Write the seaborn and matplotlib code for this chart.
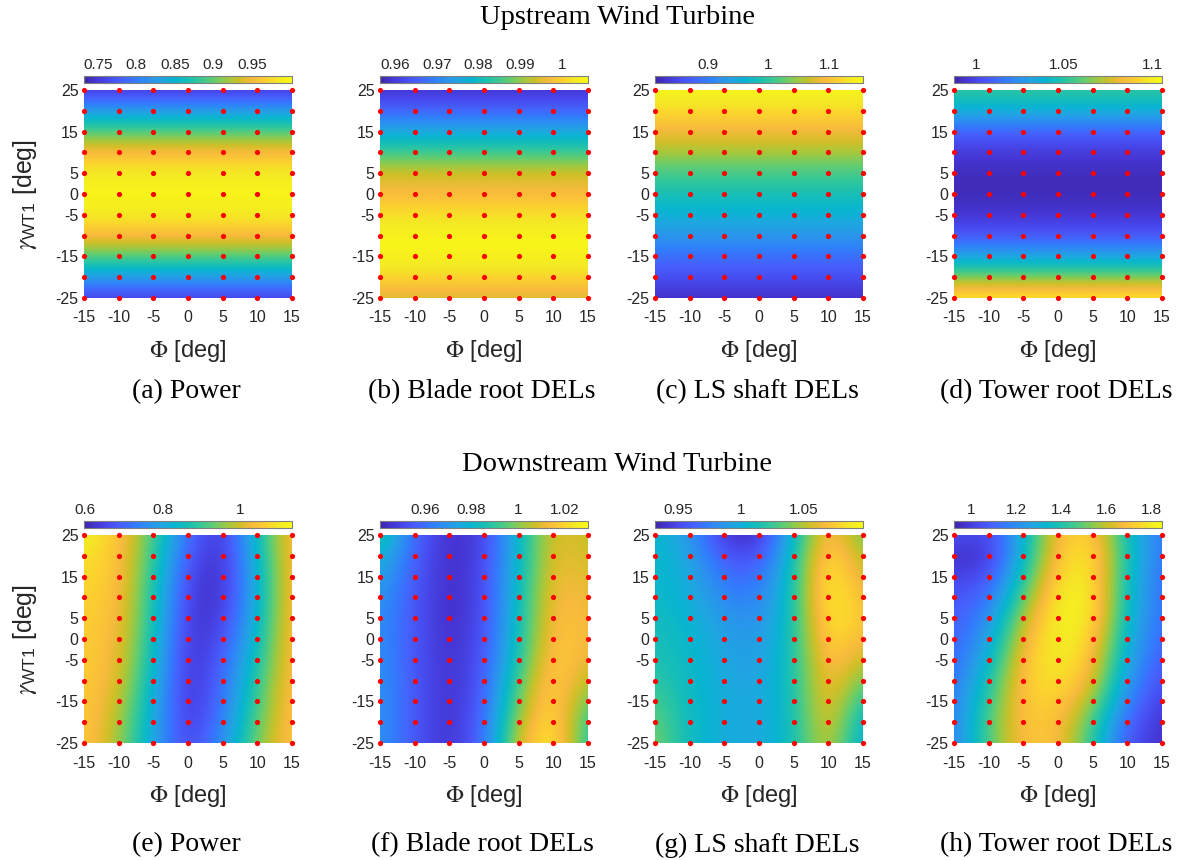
import numpy as np
import pandas as pd
import seaborn as sns
import matplotlib as mpl
import matplotlib.pyplot as plt
from matplotlib.colors import LinearSegmentedColormap

# -------------------------
# Data
# -------------------------
phi = [-15, -10, -5, 0, 5, 10, 15]
gamma = [25, 20, 15, 10, 5, 0, -5, -10, -15, -20, -25]

# Upstream turbine: values only change with gamma (one value per row)
up_power = [0.748, 0.828, 0.895, 0.954, 0.988, 0.997, 0.988, 0.954, 0.895, 0.828, 0.753]
up_blade = [0.959, 0.966, 0.976, 0.985, 0.994, 0.997, 1.002, 1.005, 1.005, 1.001, 0.994]
up_shaft = [1.149, 1.122, 1.087, 1.053, 1.012, 0.985, 0.957, 0.926, 0.888, 0.858, 0.827]
up_tower = [1.053, 1.037, 1.009, 0.996, 0.991, 0.990, 0.995, 1.005, 1.032, 1.064, 1.100]

# Downstream turbine: rows = gamma (25 -> -25), cols = phi (-15 -> 15)
down_power = [
    [1.120, 1.058, 0.919, 0.705, 0.614, 0.855, 1.055],
    [1.090, 1.055, 0.903, 0.678, 0.609, 0.839, 1.055],
    [1.080, 1.053, 0.892, 0.652, 0.609, 0.823, 1.058],
    [1.070, 1.047, 0.882, 0.635, 0.619, 0.823, 1.058],
    [1.066, 1.042, 0.876, 0.625, 0.635, 0.833, 1.058],
    [1.063, 1.034, 0.866, 0.614, 0.662, 0.849, 1.058],
    [1.063, 1.026, 0.855, 0.609, 0.689, 0.866, 1.060],
    [1.063, 1.015, 0.839, 0.609, 0.705, 0.892, 1.060],
    [1.063, 0.999, 0.823, 0.609, 0.721, 0.908, 1.063],
    [1.063, 0.983, 0.812, 0.619, 0.737, 0.930, 1.063],
    [1.063, 0.973, 0.801, 0.635, 0.759, 0.946, 1.066],
]
down_blade = [
    [0.992, 0.957, 0.944, 0.948, 0.981, 1.012, 1.005],
    [0.981, 0.956, 0.943, 0.949, 0.981, 1.013, 1.007],
    [0.975, 0.955, 0.943, 0.950, 0.982, 1.014, 1.009],
    [0.971, 0.954, 0.943, 0.950, 0.983, 1.016, 1.011],
    [0.969, 0.954, 0.943, 0.951, 0.984, 1.017, 1.012],
    [0.969, 0.954, 0.943, 0.952, 0.985, 1.019, 1.012],
    [0.969, 0.954, 0.944, 0.953, 0.988, 1.021, 1.010],
    [0.970, 0.954, 0.944, 0.954, 0.994, 1.023, 1.003],
    [0.970, 0.954, 0.944, 0.955, 0.999, 1.025, 0.994],
    [0.970, 0.954, 0.944, 0.957, 1.005, 1.027, 0.987],
    [0.970, 0.954, 0.944, 0.958, 1.010, 1.030, 0.984],
]
down_shaft = [
    [1.006, 0.989, 0.940, 0.935, 1.006, 1.080, 1.034],
    [1.008, 0.994, 0.956, 0.951, 1.011, 1.092, 1.044],
    [1.008, 0.998, 0.968, 0.965, 1.014, 1.097, 1.054],
    [1.008, 1.001, 0.978, 0.974, 1.014, 1.097, 1.064],
    [1.011, 1.004, 0.986, 0.981, 1.014, 1.093, 1.069],
    [1.014, 1.006, 0.991, 0.986, 1.014, 1.087, 1.064],
    [1.017, 1.008, 0.994, 0.989, 1.014, 1.080, 1.050],
    [1.022, 1.008, 0.996, 0.991, 1.014, 1.075, 1.034],
    [1.030, 1.008, 0.998, 0.994, 1.012, 1.073, 1.014],
    [1.036, 1.008, 0.998, 0.994, 1.011, 1.070, 1.001],
    [1.041, 1.008, 0.998, 0.994, 1.011, 1.064, 0.994],
]
down_tower = [
    [1.063, 0.998, 1.313, 1.710, 1.757, 1.368, 1.128],
    [0.970, 0.961, 1.340, 1.729, 1.803, 1.387, 1.128],
    [1.017, 1.035, 1.405, 1.775, 1.812, 1.368, 1.109],
    [1.063, 1.109, 1.498, 1.812, 1.821, 1.359, 1.109],
    [1.081, 1.183, 1.590, 1.831, 1.803, 1.340, 1.109],
    [1.091, 1.248, 1.664, 1.831, 1.757, 1.313, 1.091],
    [1.109, 1.313, 1.710, 1.812, 1.710, 1.276, 1.063],
    [1.128, 1.387, 1.729, 1.784, 1.664, 1.220, 1.035],
    [1.146, 1.442, 1.729, 1.738, 1.572, 1.165, 0.998],
    [1.155, 1.479, 1.720, 1.710, 1.479, 1.091, 0.970],
    [1.155, 1.479, 1.710, 1.701, 1.433, 1.054, 0.961],
]

# Colour limits and colorbar ticks of each panel
clims = [(0.732, 1.002), (0.9564, 1.0062), (0.813, 1.156), (0.9876, 1.1056),
         (0.598, 1.133), (0.9406, 1.030), (0.9316, 1.097), (0.924, 1.849)]
cbar_ticks = [[0.75, 0.8, 0.85, 0.9, 0.95], [0.96, 0.97, 0.98, 0.99, 1.0],
              [0.9, 1.0, 1.1], [1.0, 1.05, 1.1],
              [0.6, 0.8, 1.0], [0.96, 0.98, 1.0, 1.02],
              [0.95, 1.0, 1.05], [1.0, 1.2, 1.4, 1.6, 1.8]]
cbar_labels = [['0.75', '0.8', '0.85', '0.9', '0.95'], ['0.96', '0.97', '0.98', '0.99', '1'],
               ['0.9', '1', '1.1'], ['1', '1.05', '1.1'],
               ['0.6', '0.8', '1'], ['0.96', '0.98', '1', '1.02'],
               ['0.95', '1', '1.05'], ['1', '1.2', '1.4', '1.6', '1.8']]
captions = ['(a) Power', '(b) Blade root DELs', '(c) LS shaft DELs', '(d) Tower root DELs',
            '(e) Power', '(f) Blade root DELs', '(g) LS shaft DELs', '(h) Tower root DELs']
row_titles = ['Upstream Wind Turbine', 'Downstream Wind Turbine']
yticks = [-25, -15, -5, 0, 5, 15, 25]

# Upstream grids: same value along phi
grids = [np.tile(np.array(v)[:, None], (1, len(phi))) for v in
         (up_power, up_blade, up_shaft, up_tower)]
grids += [np.array(g) for g in (down_power, down_blade, down_shaft, down_tower)]

# Red sample points
pts = pd.DataFrame([(p, g) for g in gamma for p in phi], columns=['phi', 'gamma'])

# -------------------------
# Configuration
# -------------------------
sns.set_theme(style="white")
plt.rcParams['font.family'] = ['Liberation Sans', 'DejaVu Sans']
plt.rcParams['mathtext.fontset'] = 'stix'
plt.rcParams['axes.unicode_minus'] = False

# MATLAB parula (subsampled anchors)
parula = LinearSegmentedColormap.from_list('parula', [
    (0.2422, 0.1504, 0.6603), (0.2706, 0.2147, 0.8364), (0.2813, 0.3006, 0.9414),
    (0.2699, 0.3892, 0.9906), (0.1963, 0.4847, 0.9892), (0.1687, 0.5703, 0.9359),
    (0.1248, 0.6459, 0.8883), (0.0297, 0.7082, 0.8163), (0.0964, 0.7500, 0.7120),
    (0.2161, 0.7843, 0.5923), (0.3909, 0.8029, 0.4354), (0.6174, 0.7876, 0.2612),
    (0.8203, 0.7498, 0.1535), (0.9728, 0.7298, 0.2394), (0.9892, 0.8136, 0.1885),
    (0.9597, 0.9135, 0.1423), (0.9769, 0.9839, 0.0805)])

# -------------------------
# Figure
# -------------------------
W, H = 1179, 860
fig = plt.figure(figsize=(W / 100, H / 100), dpi=100)

col_left = [84, 380, 655, 954]
row_top = [90, 535]
aw, ah = 208, 208
txt = '#262626'

for i, Z in enumerate(grids):
    r, c = divmod(i, 4)
    l, t = col_left[c], row_top[r]
    ax = fig.add_axes([l / W, 1 - (t + ah) / H, aw / W, ah / H])
    cax = fig.add_axes([l / W, 1 - (t - 7) / H, aw / W, 7 / H])

    im = ax.imshow(Z, cmap=parula, vmin=clims[i][0], vmax=clims[i][1],
                   extent=[-17.5, 17.5, -27.5, 27.5], origin='upper',
                   interpolation='bicubic', interpolation_stage='data',
                   aspect='auto')
    sns.scatterplot(data=pts, x='phi', y='gamma', color='red', s=14,
                    linewidth=0, ax=ax, legend=False, clip_on=False, zorder=3)

    ax.set_xlim(-15, 15)
    ax.set_ylim(-25, 25)
    ax.set_xticks(phi)
    ax.set_yticks(yticks)
    ax.tick_params(axis='y', length=0, labelsize=11.5, colors=txt, pad=4)
    ax.tick_params(axis='x', length=0, labelsize=11.5, colors=txt, pad=9)
    for s in ax.spines.values():
        s.set_visible(False)
    ax.set_xlabel(r'$\Phi$ [deg]', fontsize=17, color=txt, labelpad=9)
    if c == 0:
        ax.set_ylabel(r'$\gamma_{\mathregular{WT1}}$ [deg]', fontsize=18,
                      color=txt, labelpad=12)
    else:
        ax.set_ylabel('')

    # Colorbar on top
    cb = fig.colorbar(im, cax=cax, orientation='horizontal')
    cax.xaxis.set_ticks_position('top')
    cax.xaxis.set_label_position('top')
    cb.set_ticks(cbar_ticks[i])
    cb.set_ticklabels(cbar_labels[i])
    cax.tick_params(direction='in', length=2, width=0.6, labelsize=11,
                    colors=txt, pad=3)
    cb.outline.set_edgecolor('#7f7f7f')
    cb.outline.set_linewidth(0.8)

    # Caption below
    cap_y = [392, 845][r]
    fig.text((l + aw / 2 - 2) / W, 1 - cap_y / H, captions[i], ha='center',
             va='center', fontsize=20, family='Liberation Serif', color='black')

# Row titles
for r, y in enumerate([18, 465]):
    fig.text(617 / W, 1 - y / H, row_titles[r], ha='center', va='center',
             fontsize=20.5, family='Liberation Serif', color='black')

fig.savefig('out.png', dpi=100)
